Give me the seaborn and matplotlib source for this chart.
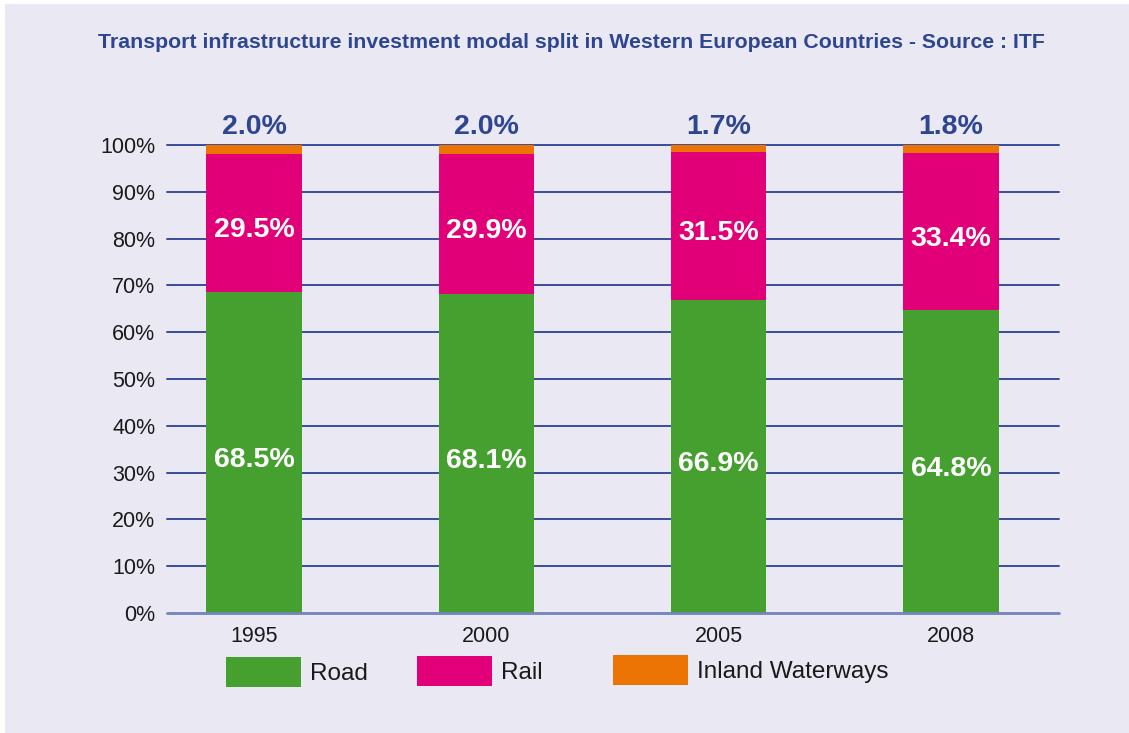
import numpy as np
import pandas as pd
import matplotlib
matplotlib.use('Agg')
import matplotlib.pyplot as plt
from matplotlib.patches import Rectangle, Patch
import seaborn as sns

# data (percent of total investment)
years = ["1995", "2000", "2005", "2008"]
road = [68.5, 68.1, 66.9, 64.8]
rail = [29.5, 29.9, 31.5, 33.4]
waterways = [2.0, 2.0, 1.7, 1.8]
y_ticks = [0, 10, 20, 30, 40, 50, 60, 70, 80, 90, 100]
title = "Transport infrastructure investment modal split in Western European Countries - Source : ITF"

BG = "#e9e8f3"
GREEN = "#45a02f"
PINK = "#e10078"
ORANGE = "#ec7404"
NAVY = "#2e4690"
GRID = "#3a4c9a"

sns.set_theme(style="white")
plt.rcParams['font.family'] = ['Liberation Sans', 'DejaVu Sans']

df = pd.DataFrame({"year": years, "Road": road, "Rail": rail, "Inland Waterways": waterways})
df["rail_bottom"] = df["Road"]
df["ww_bottom"] = df["Road"] + df["Rail"]

fig = plt.figure(figsize=(11.29, 7.33), dpi=100)
fig.patch.set_facecolor("white")
fig.add_artist(Rectangle((5 / 1129, 0), 1 - 5 / 1129, 1 - 4 / 733,
                         transform=fig.transFigure, facecolor=BG, edgecolor="none", zorder=-10))

ax = fig.add_axes([167 / 1129, 1 - 613 / 733, (1059 - 167) / 1129, (613 - 145) / 733])
ax.set_facecolor(BG)
ax.patch.set_alpha(0)

w = 0.41
sns.barplot(data=df, x="year", y="Road", color=GREEN, width=w, saturation=1,
            linewidth=0, ax=ax, zorder=3)
sns.barplot(data=df, x="year", y="Rail", bottom=df["rail_bottom"], color=PINK, width=w,
            saturation=1, linewidth=0, ax=ax, zorder=3)
sns.barplot(data=df, x="year", y="Inland Waterways", bottom=df["ww_bottom"], color=ORANGE,
            width=w, saturation=1, linewidth=0, ax=ax, zorder=3)

ax.set_ylim(0, 100)
ax.set_xlim(-0.375, 3.465)
ax.set_yticks(y_ticks)
ax.set_yticklabels([f"{t}%" for t in y_ticks])
for t in y_ticks[1:]:
    ax.axhline(t, color=GRID, lw=1.4, zorder=1, clip_on=False)
ax.axhline(0, color="#7384bc", lw=2, zorder=4, clip_on=False)
ax.set_xlabel("")
ax.set_ylabel("")
for s in ax.spines.values():
    s.set_visible(False)
ax.tick_params(axis="both", length=0, labelsize=15.5, colors="#1a1a1a")
ax.tick_params(axis="x", pad=9)
ax.tick_params(axis="y", pad=8.5)

# segment labels
for i in range(len(years)):
    ax.annotate(f"{road[i]:.1f}%", (i, road[i] / 2), xytext=(0, -5.5), textcoords="offset points",
                ha="center", va="center", color="white", fontsize=20.5, fontweight="bold", zorder=5)
    ax.annotate(f"{rail[i]:.1f}%", (i, road[i] + rail[i] / 2), xytext=(0, -5), textcoords="offset points",
                ha="center", va="center", color="white", fontsize=20.5, fontweight="bold", zorder=5)
    ax.annotate(f"{waterways[i]:.1f}%", (i, 100), xytext=(0, 13), textcoords="offset points",
                ha="center", va="center", color=NAVY, fontsize=20.5, fontweight="bold", zorder=5)

fig.text(571 / 1129, 1 - 43 / 733, title, ha="center", va="center",
         color=NAVY, fontsize=15.3, fontweight="bold")

# legend entries placed individually, as in the source layout
entries = [("Road", GREEN, 226, 672), ("Rail", PINK, 417, 671), ("Inland Waterways", ORANGE, 613, 670)]
for label, col, x0, yc in entries:
    leg = fig.legend(handles=[Patch(facecolor=col, edgecolor="none", label=label)],
                     loc="center left", bbox_to_anchor=(x0 / 1129, 1 - yc / 733),
                     frameon=False, fontsize=17.5, handlelength=3.1, handleheight=1.5,
                     handletextpad=0.35, borderpad=0, borderaxespad=0)
    for txt in leg.get_texts():
        txt.set_color("#1a1a1a")

fig.savefig("out.png", dpi=100, facecolor=fig.get_facecolor())
